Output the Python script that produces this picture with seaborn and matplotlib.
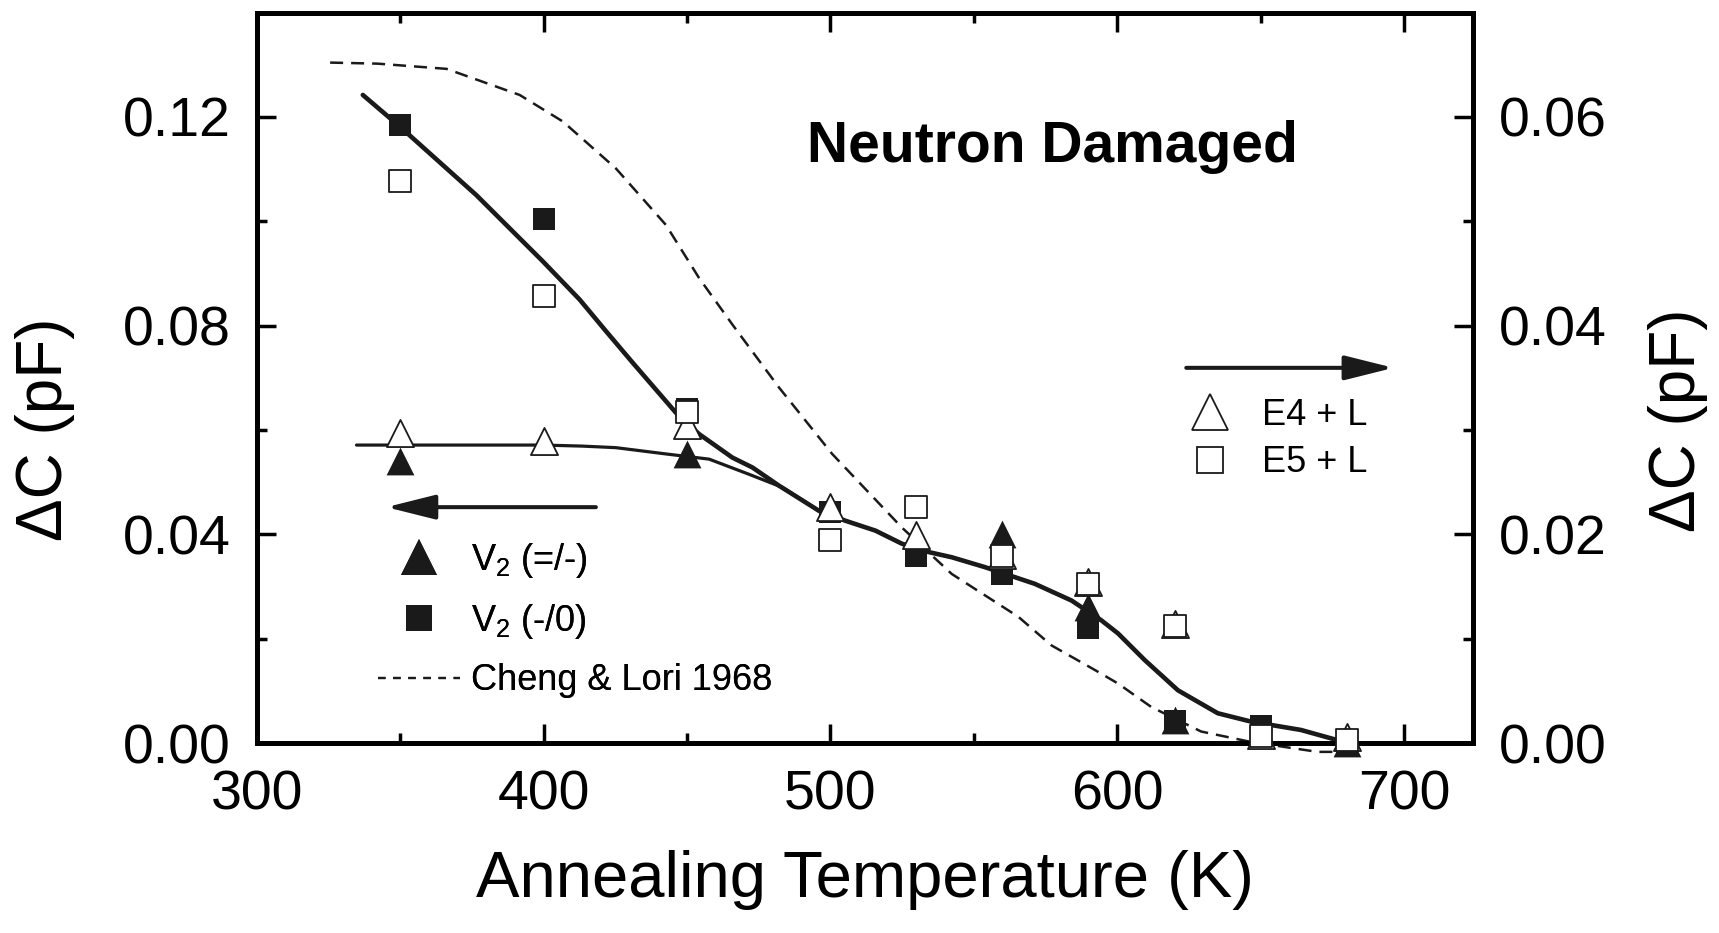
import matplotlib
matplotlib.use("Agg")
import matplotlib.pyplot as plt
import seaborn as sns
from matplotlib.lines import Line2D
from matplotlib.ticker import MultipleLocator, FormatStrFormatter

# ---------------- data ----------------
temp = [350, 400, 450, 500, 530, 560, 590, 620, 650, 680]
v2_minus0 = [0.1184, 0.1005, 0.0640, 0.0443, 0.0358, 0.0323, 0.0220, 0.0043, 0.0032, 0.0000]   # V2(-/0), left axis
temp_tri = [350, 450, 560, 590, 620, 680]
v2_eqminus = [0.0541, 0.0553, 0.0400, 0.0260, 0.0044, 0.0000]  # V2(=/-), left axis
e4_L = [0.0297, 0.0289, 0.0305, 0.0226, 0.0199, 0.0180, 0.0154, 0.0114, 0.0008, 0.0006]  # right axis
e5_L = [0.0539, 0.0428, 0.0317, 0.0195, 0.0226, 0.0179, 0.0152, 0.0112, 0.0007, 0.0003]  # right axis

fit_sq_T = [336.9, 349.9, 376.5, 399.7, 412.5, 421.6, 431.0, 446.1, 454.2, 465.8, 472.8,
            482.1, 496.0, 505.2, 515.7, 524.9, 534.2, 542.3, 553.9, 571.3, 584.1, 594.5,
            600.3, 609.6, 621.2, 635.1, 646.7, 664.1, 679.1]
fit_sq_C = [0.1242, 0.1181, 0.1050, 0.0923, 0.0850, 0.0790, 0.0729, 0.0633, 0.0592, 0.0547, 0.0528,
            0.0493, 0.0445, 0.0426, 0.0407, 0.0382, 0.0366, 0.0356, 0.0337, 0.0305, 0.0273, 0.0235,
            0.0210, 0.0159, 0.0101, 0.0057, 0.0041, 0.0025, 0.0002]

fit_tri_T = [334.7, 399.7, 413.5, 425.2, 442.6, 457.7, 471.6, 483.2,
             496.0, 505.2, 515.7, 524.9, 534.2, 542.3, 553.9, 571.3, 584.1, 594.5,
             600.3, 609.6, 621.2, 635.1, 646.7, 664.1, 679.1]
fit_tri_C = [0.0571, 0.0571, 0.0569, 0.0566, 0.0554, 0.0544, 0.0515, 0.0490,
             0.0445, 0.0426, 0.0407, 0.0382, 0.0366, 0.0356, 0.0337, 0.0305, 0.0273, 0.0235,
             0.0210, 0.0159, 0.0101, 0.0057, 0.0041, 0.0025, 0.0002]

cheng_T = [325.5, 342.0, 366.1, 391.6, 406.7, 425.2, 442.6, 454.2, 465.8, 482.1, 500.6,
           524.9, 542.3, 565.5, 577.1, 592.2, 600.3, 611.9, 629.3, 646.7, 669.9, 675.1]
cheng_C = [0.1304, 0.1302, 0.1292, 0.1242, 0.1191, 0.1101, 0.0993, 0.0891, 0.0802, 0.0681, 0.0554,
           0.0413, 0.0324, 0.0242, 0.0187, 0.0140, 0.0114, 0.0069, 0.0022, 0.0002, -0.0017, -0.0017]

x_ticks = [300, 400, 500, 600, 700]

# ---------------- style ----------------
sns.set_theme(style="ticks", rc={"axes.edgecolor": "black", "xtick.color": "black",
                                 "ytick.color": "black", "text.color": "black",
                                 "axes.labelcolor": "black"})
plt.rcParams['font.family'] = ['Liberation Sans', 'DejaVu Sans']
plt.rcParams['mathtext.fontset'] = 'custom'
plt.rcParams['mathtext.rm'] = 'Liberation Sans'
plt.rcParams['mathtext.default'] = 'regular'

fig = plt.figure(figsize=(17.19, 9.33), dpi=100)
ax = fig.add_axes([0.14951, 0.20364, 0.70721, 0.78296])
ax2 = ax.twinx()

# ---------------- lines (left axis) ----------------
sns.lineplot(x=cheng_T, y=cheng_C, ax=ax, color='k', lw=1.8, sort=False, estimator=None)
ax.lines[-1].set_linestyle((0, (5.2, 3.2)))
sns.lineplot(x=fit_tri_T, y=fit_tri_C, ax=ax, color='k', lw=2.3, sort=False, estimator=None)
sns.lineplot(x=fit_sq_T, y=fit_sq_C, ax=ax, color='k', lw=3.3, sort=False, estimator=None)
for ln in ax.lines:
    ln.set_clip_on(False)

# ---------------- markers ----------------
sns.scatterplot(x=temp, y=v2_minus0, ax=ax, marker='s', s=16.5 ** 2, color='k',
                edgecolor='k', linewidth=0, clip_on=False, zorder=3, legend=False)
sns.scatterplot(x=temp_tri, y=v2_eqminus, ax=ax, marker='^', s=20 ** 2, color='k',
                edgecolor='k', linewidth=0, clip_on=False, zorder=4, legend=False)
sns.scatterplot(x=temp, y=e4_L, ax=ax2, marker='^', s=19.5 ** 2, color='white',
                edgecolor='k', linewidth=1.3, clip_on=False, zorder=3, legend=False)
sns.scatterplot(x=temp, y=e5_L, ax=ax2, marker='s', s=15.5 ** 2, color='white',
                edgecolor='k', linewidth=1.3, clip_on=False, zorder=4, legend=False)

# ---------------- axes ----------------
ax.set_xlim(301, 724)
ax.set_ylim(0, 0.14)
ax2.set_ylim(0, 0.07)
ax.set_xticks(x_ticks)
ax.xaxis.set_minor_locator(MultipleLocator(50))
ax.yaxis.set_major_locator(MultipleLocator(0.04))
ax.yaxis.set_minor_locator(MultipleLocator(0.02))
ax.yaxis.set_major_formatter(FormatStrFormatter('%.2f'))
ax2.yaxis.set_major_locator(MultipleLocator(0.02))
ax2.yaxis.set_minor_locator(MultipleLocator(0.01))
ax2.yaxis.set_major_formatter(FormatStrFormatter('%.2f'))

ax.tick_params(which='both', direction='in', top=True, right=False, width=2.5)
ax.tick_params(which='major', length=14, labelsize=40, pad=19)
ax.tick_params(which='minor', length=7)
ax2.tick_params(which='both', direction='in', left=False, right=True, width=2.5)
ax2.tick_params(which='major', length=14, labelsize=40, pad=19)
ax2.tick_params(which='minor', length=7)
for a in (ax, ax2):
    for sp in a.spines.values():
        sp.set_linewidth(3.5)
        sp.set_color('black')

ax.set_xlabel("Annealing Temperature (K)", fontsize=47)
ax.xaxis.set_label_coords(0.5, -0.147)
ax.set_ylabel("ΔC (pF)", fontsize=46)
ax.yaxis.set_label_coords(-0.1745, 0.4298)
ax.yaxis.label.set_va('center')
ax2.set_ylabel("ΔC (pF)", fontsize=46)
ax2.yaxis.set_label_coords(1.1687, 0.4422)
ax2.yaxis.label.set_va('center')

# ---------------- annotations ----------------
ax.text(577.5, 0.1114, "Neutron Damaged", fontsize=41, fontweight='bold',
        ha='center', va='baseline')
arrow_style = dict(arrowstyle='-|>,head_length=0.6,head_width=0.15', lw=2.9, color='k',
                   shrinkA=0, shrinkB=0, mutation_scale=50)
ax.annotate('', xy=(345.1, 0.0452), xytext=(418.2, 0.0452), arrowprops=arrow_style)
ax.annotate('', xy=(696.4, 0.0719), xytext=(624.1, 0.0719), arrowprops=arrow_style)

# ---------------- legends ----------------
h1 = [Line2D([], [], marker='^', color='k', ls='none', ms=26, mew=0),
      Line2D([], [], marker='s', color='k', ls='none', ms=19, mew=0),
      Line2D([], [], color='k', lw=1.6, ls=(0, (3.4, 3.4)))]
leg1 = ax.legend(h1, [r'V$_2$ (=/-)', r'V$_2$ (-/0)', 'Cheng & Lori 1968'],
                 loc='center left', bbox_to_anchor=(0.0995, 0.169), frameon=False,
                 fontsize=26, handlelength=2.27, handletextpad=0.3, labelspacing=0.62,
                 borderpad=0, borderaxespad=0)
ax.add_artist(leg1)

h2 = [Line2D([], [], marker='^', markerfacecolor='white', markeredgecolor='k', ls='none',
             ms=26, mew=1.3),
      Line2D([], [], marker='s', markerfacecolor='white', markeredgecolor='k', ls='none',
             ms=19, mew=1.3)]
leg2 = ax2.legend(h2, ['E4 + L', 'E5 + L'], loc='center left', bbox_to_anchor=(0.751, 0.4162),
                  frameon=False, fontsize=26, handlelength=2.19, handletextpad=0.35,
                  labelspacing=0.35, borderpad=0, borderaxespad=0)

fig.savefig('out.png', dpi=100)
